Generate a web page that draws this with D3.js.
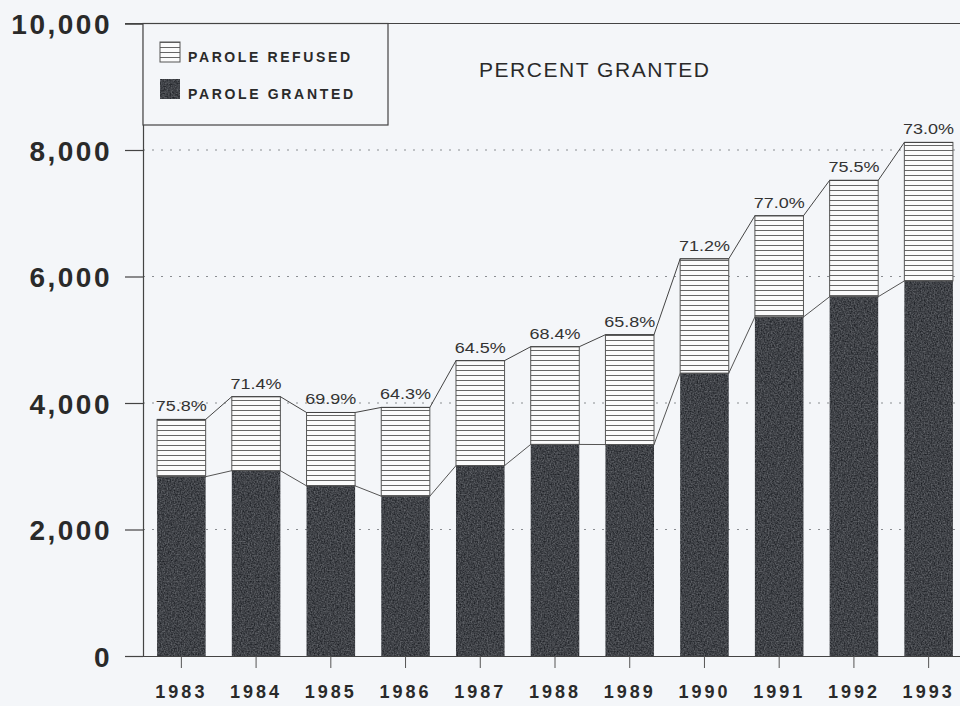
<!DOCTYPE html>
<html>
<head>
  <meta charset="utf-8">
  <title>Parole Granted and Refused</title>
  <style>
  body { margin: 0; background: #f4f6f9; }
  .ytick { font-family: "Liberation Sans", Arial, sans-serif; font-weight: bold; font-size: 28px; fill: #2a2a2a; text-anchor: end; }
  .xtick { font-family: "Liberation Sans", Arial, sans-serif; font-weight: bold; font-size: 18px; fill: #2a2a2a; text-anchor: middle; }
  .pct { font-family: "Liberation Sans", Arial, sans-serif; font-size: 15px; fill: #333; text-anchor: middle; }
  .legend-font { font-family: "Liberation Sans", Arial, sans-serif; font-weight: bold; font-size: 14px; fill: #2a2a2a; }
  </style>
</head>
<body>
  <div id="chart"></div>
  <script src="https://cdn.jsdelivr.net/npm/d3@7"></script>
  <script>
  // data
  var years = ["1983","1984","1985","1986","1987","1988","1989","1990","1991","1992","1993"];
  var granted = [2835, 2930, 2690, 2527, 3010, 3345, 3343, 4470, 5360, 5680, 5930];
  var refused = [905, 1170, 1160, 1403, 1660, 1545, 1737, 1810, 1600, 1840, 2190];
  var pctLabels = ["75.8%","71.4%","69.9%","64.3%","64.5%","68.4%","65.8%","71.2%","77.0%","75.5%","73.0%"];
  var yTicks = [0, 2000, 4000, 6000, 8000, 10000];
  var seriesNames = ["PAROLE REFUSED", "PAROLE GRANTED"];

  var width = 960, height = 706;
  var left = 143, bottom = 656;

  var svg = d3.select("#chart").append("svg")
    .attr("width", width)
    .attr("height", height);

  svg.append("rect").attr("width", width).attr("height", height).attr("fill", "#f4f6f9");

  var defs = svg.append("defs");
  // horizontal hatch for refused
  var hatch = defs.append("pattern")
    .attr("id", "hatch")
    .attr("patternUnits", "userSpaceOnUse")
    .attr("width", 10).attr("height", 5);
  hatch.append("rect").attr("width", 10).attr("height", 5).attr("fill", "#fbfbfb");
  hatch.append("line").attr("x1", 0).attr("x2", 10).attr("y1", 0.5).attr("y2", 0.5)
    .attr("stroke", "#666").attr("stroke-width", 1);

  // grainy dark texture for granted
  var grain = defs.append("filter").attr("id", "grain")
    .attr("x", 0).attr("y", 0).attr("width", "100%").attr("height", "100%")
    .attr("color-interpolation-filters", "sRGB");
  grain.append("feTurbulence").attr("type", "fractalNoise")
    .attr("baseFrequency", 0.7).attr("numOctaves", 2).attr("seed", 3).attr("result", "n");
  grain.append("feColorMatrix").attr("in", "n").attr("type", "matrix")
    .attr("values", "0.4 0 0 0 0.05  0.4 0 0 0 0.06  0.4 0 0 0 0.08  0 0 0 0 1")
    .attr("result", "g");
  grain.append("feComposite").attr("in", "g").attr("in2", "SourceGraphic").attr("operator", "in");

  var x = d3.scaleBand()
    .domain(years)
    .range([144, 966])
    .paddingInner(0.35)
    .paddingOuter(0.175);

  var y = d3.scaleLinear()
    .domain([0, 10000])
    .range([bottom, 23.5]);

  // dotted grid lines
  svg.append("g").selectAll("line")
    .data(yTicks.filter(function(d) { return d > 0 && d < 10000; }))
    .enter().append("line")
    .attr("x1", left).attr("x2", width)
    .attr("y1", function(d) { return y(d); })
    .attr("y2", function(d) { return y(d); })
    .attr("stroke", "#8a8d92")
    .attr("stroke-width", 1.2)
    .attr("stroke-dasharray", "2,7");

  // top frame line
  svg.append("line").attr("x1", 125).attr("x2", width)
    .attr("y1", y(10000)).attr("y2", y(10000))
    .attr("stroke", "#444").attr("stroke-width", 1.2);

  // y axis
  var yAxis = svg.append("g")
    .attr("transform", "translate(" + left + ",0)")
    .call(d3.axisLeft(y).tickValues(yTicks).tickSize(18).tickFormat(d3.format(",")));
  yAxis.select(".domain").attr("stroke", "#444").attr("stroke-width", 1.2);
  yAxis.selectAll(".tick line").attr("stroke", "#444").attr("stroke-width", 1.2);
  yAxis.selectAll(".tick text").attr("class", "ytick")
    .attr("x", -31).attr("dy", "0.36em")
    .attr("font-size", null).attr("font-family", null).attr("fill", null)
    .style("letter-spacing", "2.5px");

  // x axis
  var xAxis = svg.append("g")
    .attr("transform", "translate(0," + bottom + ")")
    .call(d3.axisBottom(x).tickSize(12).tickSizeOuter(0));
  xAxis.select(".domain").attr("d", "M125,0.5H" + width).attr("stroke", "#444").attr("stroke-width", 1.2);
  xAxis.selectAll(".tick line").attr("stroke", "#555");
  xAxis.selectAll(".tick text").attr("class", "xtick")
    .attr("y", 42).attr("dy", 0)
    .attr("font-size", null).attr("font-family", null).attr("fill", null)
    .style("letter-spacing", "3px");

  var rows = years.map(function(yr, i) {
    return { year: yr, granted: granted[i], total: granted[i] + refused[i], pct: pctLabels[i] };
  });

  // bars: granted bottom, refused on top
  var bars = svg.append("g").selectAll("g")
    .data(rows).enter().append("g");

  bars.append("rect")
    .attr("x", function(d) { return x(d.year); })
    .attr("y", function(d) { return y(d.total); })
    .attr("width", x.bandwidth())
    .attr("height", function(d) { return y(d.granted) - y(d.total); })
    .attr("fill", "url(#hatch)")
    .attr("stroke", "#555").attr("stroke-width", 1);

  bars.append("rect")
    .attr("x", function(d) { return x(d.year); })
    .attr("y", function(d) { return y(d.granted); })
    .attr("width", x.bandwidth())
    .attr("height", function(d) { return bottom - y(d.granted); })
    .attr("fill", "#3c3f44")
    .attr("filter", "url(#grain)");

  // connecting lines between bar tops
  function connector(key) {
    var pts = [];
    rows.forEach(function(d) {
      pts.push([x(d.year), y(d[key])]);
      pts.push([x(d.year) + x.bandwidth(), y(d[key])]);
    });
    return d3.line()(pts);
  }
  svg.append("path").attr("d", connector("total"))
    .attr("fill", "none").attr("stroke", "#444").attr("stroke-width", 1);
  svg.append("path").attr("d", connector("granted"))
    .attr("fill", "none").attr("stroke", "#555").attr("stroke-width", 1);

  // percent labels
  svg.append("g").selectAll("text")
    .data(rows).enter().append("text")
    .attr("class", "pct")
    .attr("x", function(d) { return x(d.year) + x.bandwidth() / 2; })
    .attr("y", function(d) { return y(d.total) - 8; })
    .attr("textLength", 51).attr("lengthAdjust", "spacingAndGlyphs")
    .text(function(d) { return d.pct; });

  // legend box
  var legend = svg.append("g");
  legend.append("rect")
    .attr("x", left).attr("y", y(10000))
    .attr("width", 245).attr("height", 125 - y(10000))
    .attr("fill", "#f4f6f9").attr("stroke", "#444").attr("stroke-width", 1.2);

  var items = legend.selectAll("g.item")
    .data(seriesNames).enter().append("g")
    .attr("class", "item")
    .attr("transform", function(d, i) { return "translate(160," + (42 + i * 37) + ")"; });

  items.append("rect")
    .attr("width", 20).attr("height", 20)
    .attr("fill", function(d, i) { return i === 0 ? "url(#hatch)" : "#3c3f44"; })
    .attr("filter", function(d, i) { return i === 0 ? null : "url(#grain)"; })
    .attr("stroke", function(d, i) { return i === 0 ? "#555" : null; });

  items.append("text")
    .attr("class", "legend-font")
    .attr("x", 28).attr("y", 20)
    .attr("textLength", function(d, i) { return i === 0 ? 162 : 165; })
    .attr("lengthAdjust", "spacing")
    .text(function(d) { return d; });

  legend.append("text")
    .attr("x", 479).attr("y", 77)
    .attr("font-family", "Liberation Sans, Arial, sans-serif")
    .attr("font-size", 21)
    .attr("fill", "#2a2a2a")
    .attr("textLength", 230).attr("lengthAdjust", "spacing")
    .text("PERCENT GRANTED");
  </script>
</body>
</html>
